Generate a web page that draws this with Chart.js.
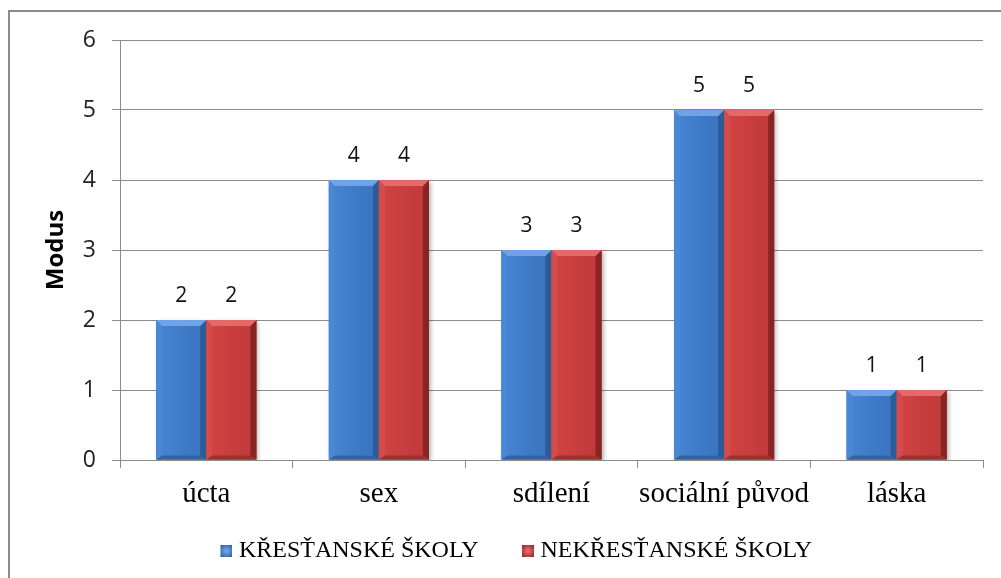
<!DOCTYPE html>
<html>
<head>
<meta charset="utf-8">
<script src="https://cdn.jsdelivr.net/npm/chart.js@4/dist/chart.umd.min.js"></script>
<style>
  html, body { margin: 0; padding: 0; background: #ffffff; }
  #wrap { width: 1001px; height: 578px; position: relative; }
</style>
</head>
<body>
<div id="wrap"><canvas id="c" width="1001" height="578"></canvas></div>
<script>
// Categories and values (mode per school type)
const categories = ['úcta', 'sex', 'sdílení', 'sociální původ', 'láska'];
const krestanske = [2, 4, 3, 5, 1];
const nekrestanske = [2, 4, 3, 5, 1];
const seriesNames = ['KŘESŤANSKÉ ŠKOLY', 'NEKŘESŤANSKÉ ŠKOLY'];
const yTicks = [0, 1, 2, 3, 4, 5, 6];

// Face colours for the bevelled bars
const palettes = [
  { base: '#3f7bc9', l: '#4885d2', r: '#3a72bd', top: '#6fa3e6', left: '#4a88d5', right: '#2c5b98', bottom: '#33649f' },
  { base: '#c83d3d', l: '#d24545', r: '#c03a3a', top: '#e46a6a', left: '#d44b4b', right: '#882424', bottom: '#9e3030' }
];

// Small bevelled square used as legend marker (transparent margin on the left)
function legendMarker(p) {
  const W = 37, S = 12;
  const cv = document.createElement('canvas');
  cv.width = W; cv.height = S;
  const c = cv.getContext('2d');
  const L = W - S;
  const g = c.createRadialGradient(L + S / 2, S / 2, 1, L + S / 2, S / 2, S * 0.7);
  g.addColorStop(0, p.top);
  g.addColorStop(1, p.right);
  c.fillStyle = g;
  c.fillRect(L, 0, S, S);
  return cv;
}

// Frame around the whole chart
const framePlugin = {
  id: 'frame',
  afterDraw(chart) {
    const ctx = chart.ctx;
    ctx.save();
    ctx.strokeStyle = '#8c8c8c';
    ctx.lineWidth = 2;
    ctx.strokeRect(9, 11, 1010, 600);
    ctx.restore();
  }
};

// Soft drop shadow behind bars
const shadowPlugin = {
  id: 'barShadow',
  beforeDatasetDraw(chart) {
    const ctx = chart.ctx;
    ctx.save();
    ctx.shadowColor = 'rgba(0,0,0,0.28)';
    ctx.shadowBlur = 4;
    ctx.shadowOffsetX = 2;
    ctx.shadowOffsetY = 2;
  },
  afterDatasetDraw(chart) {
    chart.ctx.restore();
  }
};

// Bevelled faces on each bar, drawn from the bar element geometry
const bevelPlugin = {
  id: 'bevel',
  afterDatasetsDraw(chart) {
    const ctx = chart.ctx;
    chart.data.datasets.forEach((ds, di) => {
      const meta = chart.getDatasetMeta(di);
      const p = palettes[di];
      meta.data.forEach((bar) => {
        const { x, y, base, width } = bar.getProps(['x', 'y', 'base', 'width'], true);
        const L = x - width / 2, R = x + width / 2, T = Math.min(y, base), B = Math.max(y, base);
        const b = 6, bb = 4;
        ctx.save();
        const g = ctx.createLinearGradient(L, 0, R, 0);
        g.addColorStop(0, p.l);
        g.addColorStop(0.5, p.base);
        g.addColorStop(1, p.r);
        ctx.fillStyle = g;
        ctx.fillRect(L, T, R - L, B - T);
        const poly = (pts, c) => {
          ctx.beginPath();
          ctx.moveTo(pts[0][0], pts[0][1]);
          for (let i = 1; i < pts.length; i++) ctx.lineTo(pts[i][0], pts[i][1]);
          ctx.closePath();
          ctx.fillStyle = c;
          ctx.fill();
        };
        poly([[L, T], [L + b, T + b], [L + b, B - bb], [L, B]], p.left);
        poly([[R, T], [R, B], [R - b, B - bb], [R - b, T + b]], p.right);
        poly([[L, B], [R, B], [R - b, B - bb], [L + b, B - bb]], p.bottom);
        poly([[L, T], [R, T], [R - b, T + b], [L + b, T + b]], p.top);
        ctx.restore();
      });
    });
  }
};

// Value labels above bars
const valueLabelPlugin = {
  id: 'valueLabels',
  afterDatasetsDraw(chart) {
    const ctx = chart.ctx;
    ctx.save();
    ctx.font = '21px "Open Sans", sans-serif';
    ctx.fillStyle = '#111111';
    ctx.textAlign = 'center';
    ctx.textBaseline = 'alphabetic';
    chart.data.datasets.forEach((ds, di) => {
      chart.getDatasetMeta(di).data.forEach((bar, i) => {
        ctx.fillText(String(ds.data[i]), bar.x, bar.y - 18);
      });
    });
    ctx.restore();
  }
};

const serif = '"Liberation Serif", "Times New Roman", serif';
const sans = '"Open Sans", sans-serif';

new Chart(document.getElementById('c'), {
  type: 'bar',
  data: {
    labels: categories,
    datasets: [
      { label: seriesNames[0], data: krestanske, backgroundColor: palettes[0].base, borderWidth: 0 },
      { label: seriesNames[1], data: nekrestanske, backgroundColor: palettes[1].base, borderWidth: 0 }
    ]
  },
  options: {
    responsive: false,
    animation: false,
    devicePixelRatio: 1,
    layout: { padding: { left: 30, right: 18, top: 40, bottom: 5 } },
    datasets: { bar: { categoryPercentage: 0.58, barPercentage: 1.0 } },
    plugins: {
      tooltip: { enabled: false },
      legend: {
        position: 'bottom',
        labels: {
          usePointStyle: true,
          pointStyleWidth: 26,
          boxHeight: 12,
          padding: 24,
          color: '#000000',
          font: { family: serif, size: 24 },
          generateLabels(chart) {
            return chart.data.datasets.map((ds, i) => ({
              text: ds.label,
              fillStyle: ds.backgroundColor,
              strokeStyle: ds.backgroundColor,
              lineWidth: 0,
              pointStyle: legendMarker(palettes[i]),
              hidden: false,
              datasetIndex: i,
              fontColor: '#000000'
            }));
          }
        }
      }
    },
    scales: {
      x: {
        grid: { offset: true, drawOnChartArea: false, drawTicks: true, tickLength: 8, color: '#8c8c8c' },
        border: { color: '#8c8c8c' },
        ticks: {
          color: '#000000',
          padding: 9,
          maxRotation: 0,
          minRotation: 0,
          autoSkip: false,
          font: { family: serif, size: 29 }
        },
        afterFit(scale) { scale.height = 55; }
      },
      y: {
        min: 0,
        max: 6,
        afterBuildTicks(scale) { scale.ticks = yTicks.map(v => ({ value: v })); },
        grid: { color: '#8c8c8c', tickLength: 8, drawTicks: true },
        border: { color: '#8c8c8c' },
        ticks: {
          color: '#222222',
          padding: 16,
          font: { family: sans, size: 23 }
        },
        title: {
          display: true,
          text: 'Modus',
          color: '#000000',
          padding: { top: 12, bottom: 0 },
          font: { family: sans, size: 24, weight: 'bold' }
        },
        afterFit(scale) { scale.width = 90; }
      }
    }
  },
  plugins: [shadowPlugin, bevelPlugin, valueLabelPlugin, framePlugin]
});
</script>
</body>
</html>
